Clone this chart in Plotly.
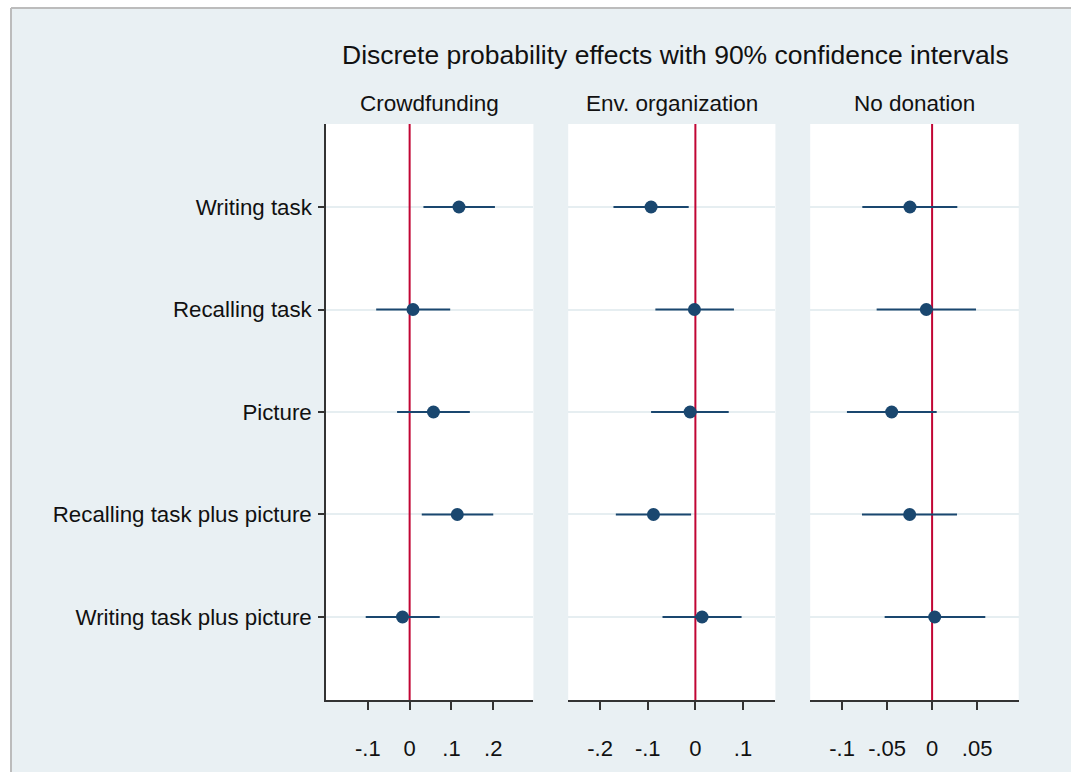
import plotly.graph_objects as go

W, H = 1071, 772

categories = ["Writing task", "Recalling task", "Picture",
              "Recalling task plus picture", "Writing task plus picture"]
panels = ["Crowdfunding", "Env. organization", "No donation"]

crowd_est = [0.118, 0.008, 0.057, 0.114, -0.017]
crowd_lo = [0.033, -0.080, -0.030, 0.029, -0.105]
crowd_hi = [0.204, 0.097, 0.144, 0.200, 0.072]

env_est = [-0.093, -0.002, -0.011, -0.088, 0.014]
env_lo = [-0.172, -0.084, -0.093, -0.167, -0.069]
env_hi = [-0.014, 0.081, 0.070, -0.009, 0.097]

nodon_est = [-0.0246, -0.0064, -0.0449, -0.0249, 0.0029]
nodon_lo = [-0.0775, -0.0616, -0.0946, -0.0779, -0.0527]
nodon_hi = [0.0280, 0.0488, 0.0051, 0.0277, 0.0591]

x_ranges = [[-0.200, 0.296], [-0.267, 0.168], [-0.1354, 0.0962]]
x_tickvals = [[-0.1, 0, 0.1, 0.2], [-0.2, -0.1, 0, 0.1], [-0.1, -0.05, 0, 0.05]]
x_ticktext = [["-.1", "0", ".1", ".2"], ["-.2", "-.1", "0", ".1"], ["-.1", "-.05", "0", ".05"]]
ref_line_x = 0

title = "Discrete probability effects with 90% confidence intervals"

NAVY = "#1a476f"
RED = "#c10534"
BG = "#e9f0f3"
GRID = "#e6eef1"
FONT = "Liberation Sans, Arial, sans-serif"


def px(x):
    return x / W


def py(y):
    return 1 - y / H


# panel screen-pixel extents -> paper domains
px_domains = [(326, 533.4), (568.2, 775.4), (810.2, 1018.7)]
x_domains = [[px(a), px(b)] for a, b in px_domains]
y_domain = [py(700), py(124)]

ypos = list(range(1, len(categories) + 1))
y_range = [5.81, 0.19]

fig = go.Figure()
series = [(crowd_est, crowd_lo, crowd_hi), (env_est, env_lo, env_hi), (nodon_est, nodon_lo, nodon_hi)]
for i, (est, lo, hi) in enumerate(series):
    sfx = "" if i == 0 else str(i + 1)
    # vertical reference line at zero, spanning the full y range
    fig.add_trace(go.Scatter(
        x=[ref_line_x, ref_line_x], y=y_range, mode="lines",
        line=dict(color=RED, width=2),
        xaxis="x" + sfx, yaxis="y" + sfx, showlegend=False, hoverinfo="skip",
        cliponaxis=False,
    ))
    fig.add_trace(go.Scatter(
        x=est, y=ypos, mode="markers",
        marker=dict(color=NAVY, size=13),
        error_x=dict(type="data", symmetric=False,
                     array=[h - e for h, e in zip(hi, est)],
                     arrayminus=[e - l for e, l in zip(est, lo)],
                     color=NAVY, thickness=2.2, width=0),
        xaxis="x" + sfx, yaxis="y" + sfx, showlegend=False,
        hoverinfo="skip",
    ))

layout = dict(
    width=W, height=H,
    margin=dict(l=0, r=0, t=0, b=0),
    paper_bgcolor=BG, plot_bgcolor="white",
    font=dict(family=FONT, color="#111111"),
    showlegend=False,
)

for i in range(3):
    sfx = "" if i == 0 else str(i + 1)
    layout["xaxis" + sfx] = dict(
        domain=x_domains[i], range=x_ranges[i], anchor="y" + sfx,
        tickmode="array", tickvals=x_tickvals[i], ticktext=x_ticktext[i],
        showgrid=False, zeroline=False, showline=True, linecolor="#333333", linewidth=1.5,
        ticks="outside", ticklen=8, tickcolor="#333333", tickwidth=1.5,
        ticklabelstandoff=20,
        tickfont=dict(size=22, family=FONT, color="#111111"),
        fixedrange=True,
    )
    layout["yaxis" + sfx] = dict(
        domain=y_domain, range=y_range, anchor="x" + sfx,
        tickmode="array", tickvals=ypos,
        ticktext=categories if i == 0 else [""] * len(categories),
        showticklabels=(i == 0),
        showgrid=True, gridcolor=GRID, gridwidth=2,
        zeroline=False,
        showline=(i == 0), linecolor="#333333", linewidth=1.5,
        ticks="outside" if i == 0 else "", ticklen=6, tickcolor="#333333", tickwidth=1.5,
        ticklabelstandoff=2,
        tickfont=dict(size=22.3, family=FONT, color="#111111"),
        fixedrange=True,
    )

fig.update_layout(**layout)

LEFT, TOP = 11, 8
shapes = [
    # white outer strips (top and left) with a thin grey frame
    dict(type="rect", xref="paper", yref="paper", x0=-0.01, x1=1.01,
         y0=py(TOP), y1=1.01, fillcolor="white", line=dict(width=0), layer="below"),
    dict(type="rect", xref="paper", yref="paper", x0=-0.01, x1=px(LEFT),
         y0=-0.01, y1=1.01, fillcolor="white", line=dict(width=0), layer="below"),
    dict(type="line", xref="paper", yref="paper", x0=px(LEFT), x1=1.01,
         y0=py(TOP), y1=py(TOP), line=dict(color="#bcbcbc", width=2), layer="below"),
    dict(type="line", xref="paper", yref="paper", x0=px(LEFT), x1=px(LEFT),
         y0=-0.01, y1=py(TOP), line=dict(color="#bcbcbc", width=2), layer="below"),
]

annotations = [dict(text=title, xref="paper", yref="paper",
                    x=px(675), y=py(55), xanchor="center", yanchor="middle",
                    showarrow=False, font=dict(size=26.5, family=FONT, color="#111111"))]
for i, name in enumerate(panels):
    a, b = px_domains[i]
    annotations.append(dict(text=name, xref="paper", yref="paper",
                            x=px((a + b) / 2), y=py(103), xanchor="center", yanchor="middle",
                            showarrow=False, font=dict(size=22.5, family=FONT, color="#111111")))

fig.update_layout(shapes=shapes, annotations=annotations)
fig.write_html("out.html",
               config={"displayModeBar": False},
               post_script="document.body.style.margin='0';document.body.style.overflow='hidden';")
